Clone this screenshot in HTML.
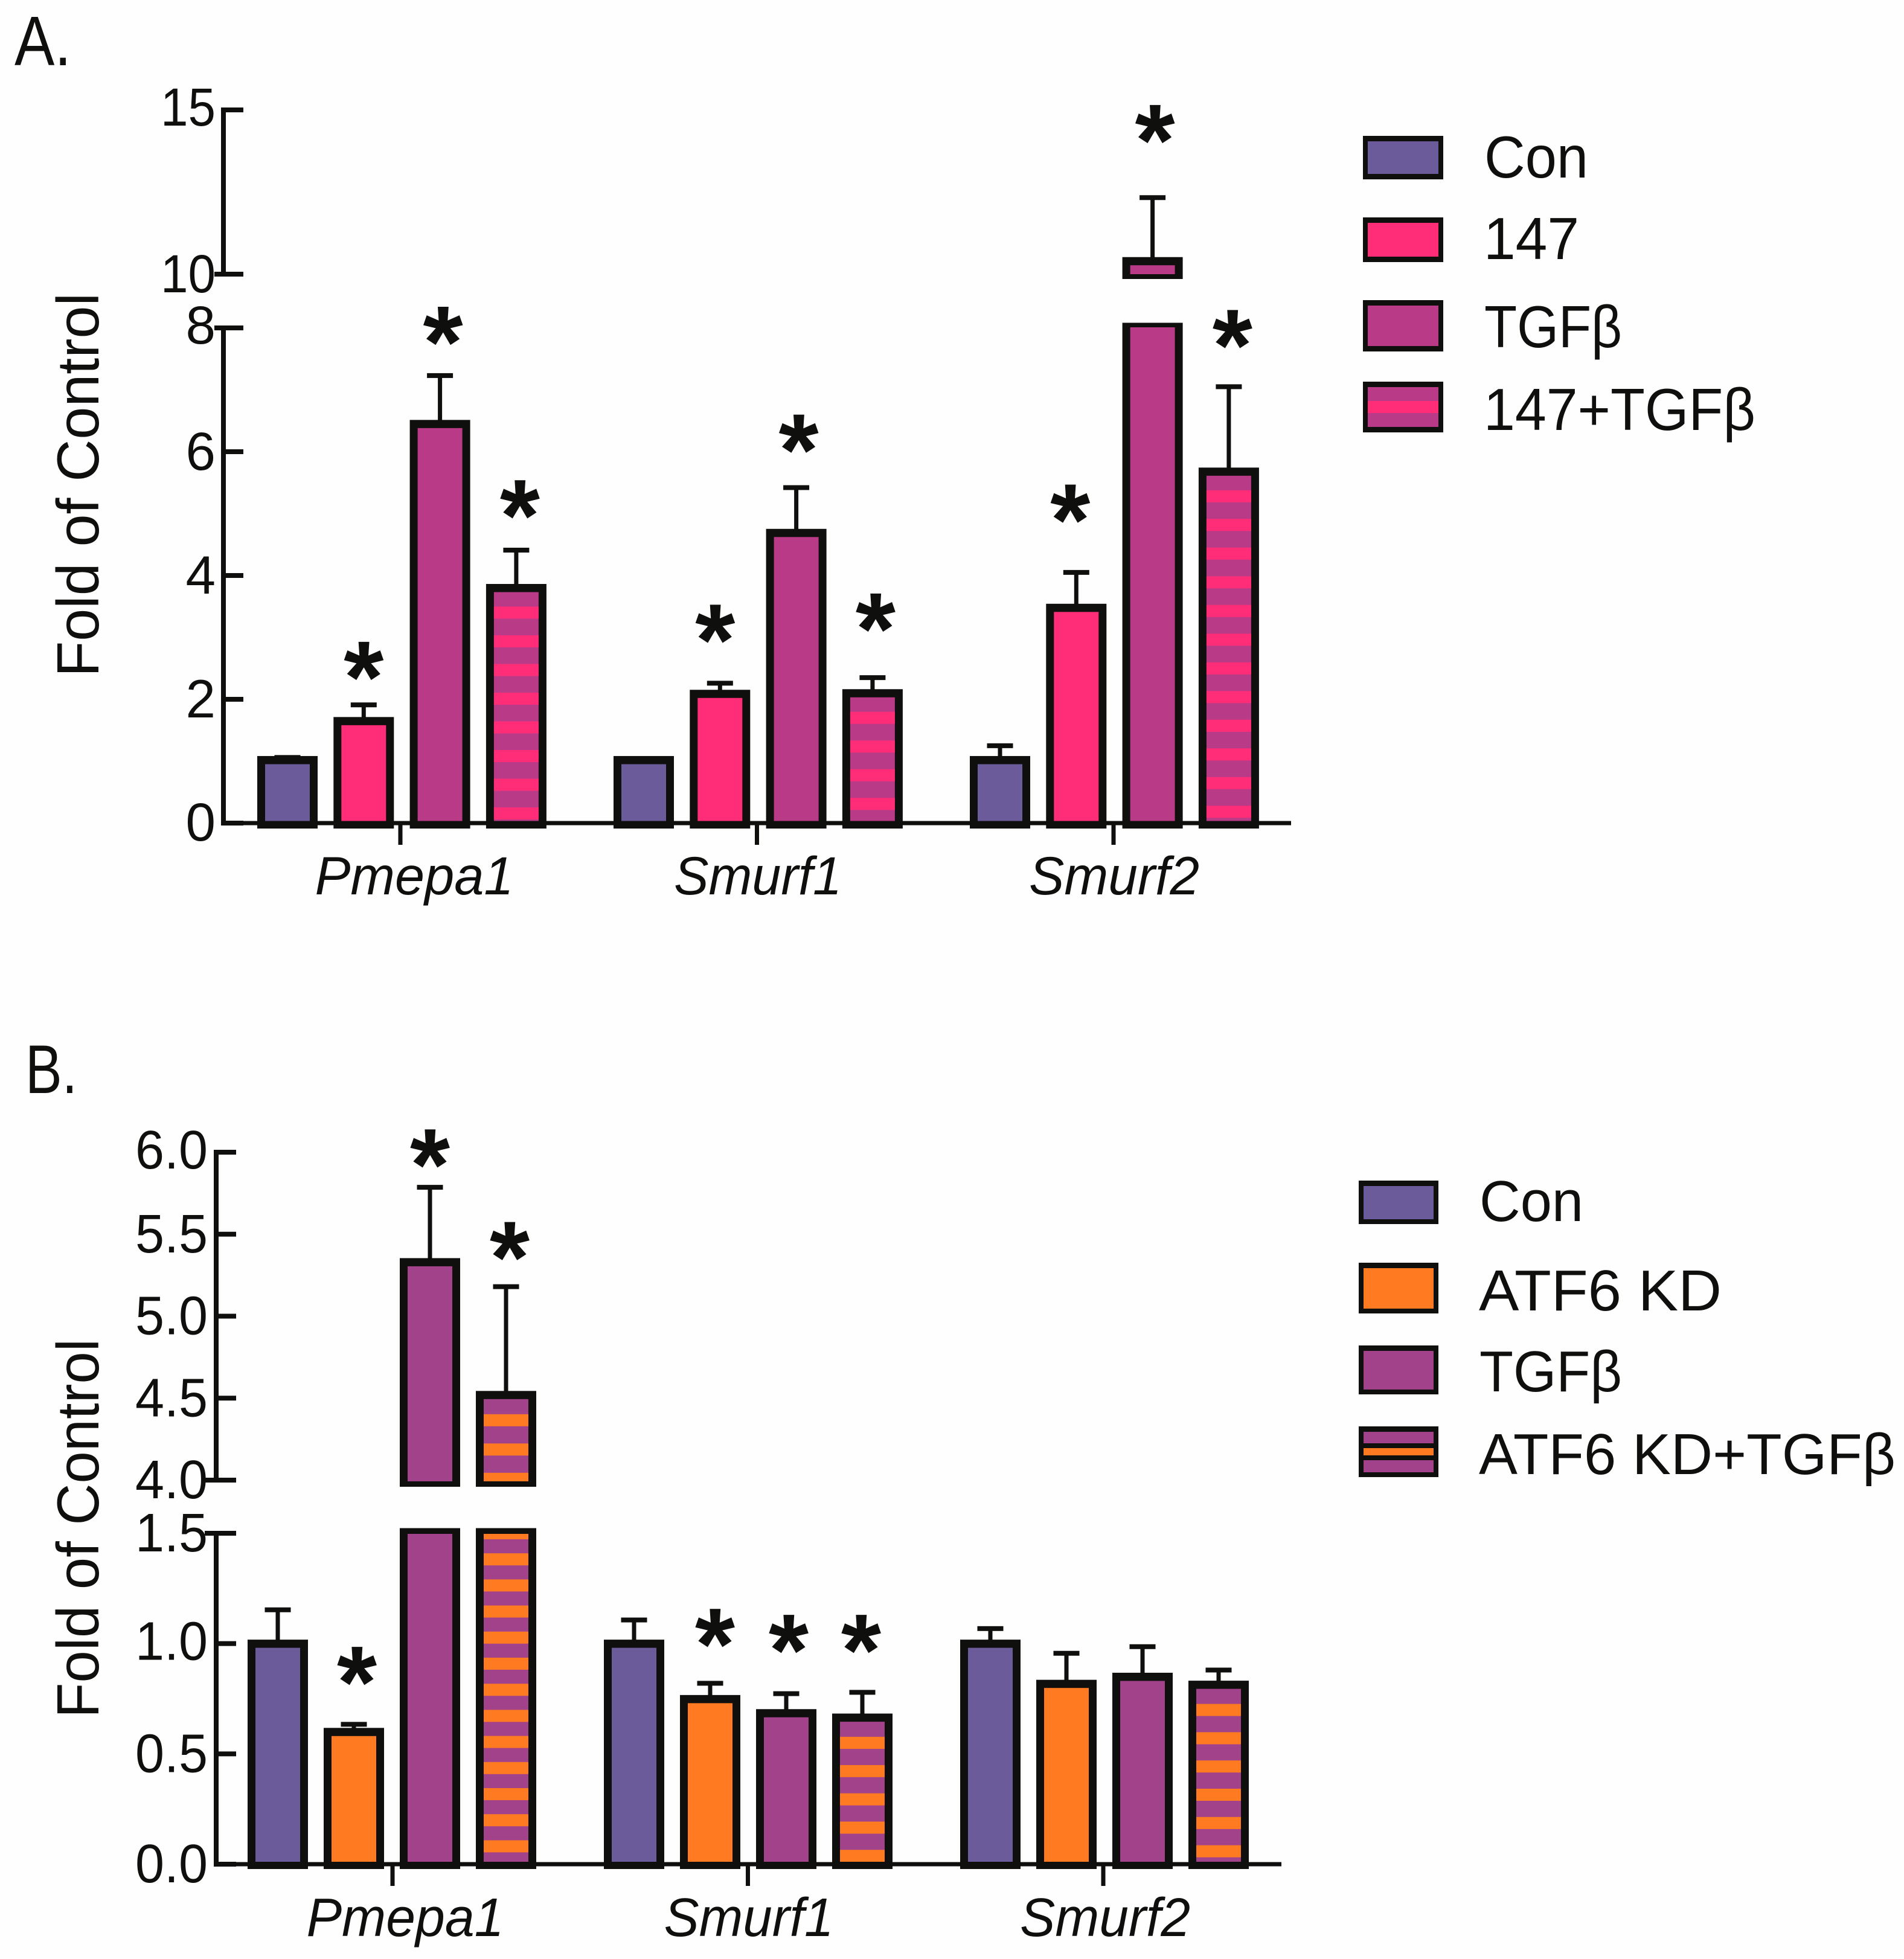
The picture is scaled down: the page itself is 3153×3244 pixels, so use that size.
<!DOCTYPE html>
<html lang="en">
<head>
<meta charset="utf-8">
<title>Fold of Control bar charts</title>
<style>
html,body{margin:0;padding:0;background:#fff;}
svg{display:block;font-family:"Liberation Sans",sans-serif;}
</style>
</head>
<body>
<svg id="figure" xmlns="http://www.w3.org/2000/svg" width="3153" height="3244" viewBox="0 0 3153 3244">
  <rect x="0" y="0" width="3153" height="3244" fill="#fffefe"/>
</svg>
<script>
// ---- shared categories ----
const categories = ['Pmepa1', 'Smurf1', 'Smurf2'];

// ---- panel A data ----
const seriesNamesA = ['Con', '147', 'TGFβ', '147+TGFβ'];
const conValuesA = [1.02, 1.02, 1.02];
const drugValuesA = [1.65, 2.09, 3.48];
const tgfValuesA = [6.45, 4.69, 10.4];
const comboValuesA = [3.8, 2.1, 5.68];
const conErrorsA = [0.04, 0.02, 0.23];
const drugErrorsA = [0.26, 0.17, 0.57];
const tgfErrorsA = [0.78, 0.73, 1.93];
const comboErrorsA = [0.61, 0.25, 1.37];
const conStarsA = [null, null, null];
const drugStarsA = [2.6, 3.2, 5.14];
const tgfStarsA = [8.03, 6.27, 14.53];
const comboStarsA = [5.21, 3.38, 7.96];
const lowerTicksA = [0, 2, 4, 6, 8];
const upperTicksA = [10, 15];

// ---- panel B data ----
const seriesNamesB = ['Con', 'ATF6 KD', 'TGFβ', 'ATF6 KD+TGFβ'];
const conValuesB = [1.0, 1.0, 1.0];
const kdValuesB = [0.6, 0.749, 0.818];
const tgfValuesB = [5.33, 0.685, 0.85];
const comboValuesB = [4.52, 0.665, 0.814];
const conErrorsB = [0.153, 0.107, 0.068];
const kdErrorsB = [0.034, 0.071, 0.138];
const tgfErrorsB = [0.456, 0.088, 0.136];
const comboErrorsB = [0.66, 0.114, 0.066];
const conStarsB = [null, null, null];
const kdStarsB = [0.893, 1.065, null];
const tgfStarsB = [6.015, 1.038, null];
const comboStarsB = [5.45, 1.038, null];
const lowerTicksB = [0, 0.5, 1, 1.5];
const upperTicksB = [4, 4.5, 5, 5.5, 6];

const SVG_NS = 'http://www.w3.org/2000/svg';
const root = document.getElementById('figure');
const INK = '#0f0f0d';

function box(name, x, y, w, h, fill) {
  const el = document.createElementNS(SVG_NS, 'rect');
  
  
  el.setAttribute('x', x);
  el.setAttribute('y', y);
  el.setAttribute('width', w);
  el.setAttribute('height', h);
  el.setAttribute('fill', fill);
  root.appendChild(el);
  return el;
}

function label(name, str, x, y, size, anchor, width, style, weight) {
  const el = document.createElementNS(SVG_NS, 'text');
  
  
  el.setAttribute('x', x);
  el.setAttribute('y', y);
  el.setAttribute('font-size', size);
  el.setAttribute('text-anchor', anchor);
  el.setAttribute('fill', INK);
  if (width) {
    el.setAttribute('textLength', width);
    el.setAttribute('lengthAdjust', 'spacingAndGlyphs');
  }
  if (style) el.setAttribute('font-style', style);
  if (weight) el.setAttribute('font-weight', weight);
  el.textContent = str;
  root.appendChild(el);
  return el;
}

function slug(s) {
  return s.toLowerCase().replace('β', 'b').replace(/[^a-z0-9]+/g, '-');
}

// Piecewise scale through a broken axis
function brokenScale(lowMax, highMin, highMax, y0, yLowTop, yHighBottom, yHighTop) {
  return function (v) {
    if (v <= lowMax) return y0 + (yLowTop - y0) * v / lowMax;
    if (v <= highMin) return yLowTop + (yHighBottom - yLowTop) * (v - lowMax) / (highMin - lowMax);
    return yHighBottom + (yHighTop - yHighBottom) * (v - highMin) / (highMax - highMin);
  };
}

function stripes(name, x, w, top, bottom, color, phase, period, height) {
  for (let s = top + phase; s < bottom; s += period) {
    const a = Math.max(s, top);
    const b = Math.min(s + height, bottom);
    if (b > a) box(name, x, a, w, b - a, color);
  }
}

function drawPanel(p) {
  const y = p.y;
  // bars
  p.series.forEach(function (sr, si) {
    categories.forEach(function (cat, ci) {
      const left = p.barStart + ci * p.groupPitch + si * p.barPitch;
      const cx = left + p.barWidth / 2;
      const base = slug(cat) + '-' + slug(sr.name);
      const v = sr.values[ci];
      const top = v + sr.errors[ci];
      const inX = left + p.side;
      const inW = p.barWidth - 2 * p.side;
      const axisY = y(0);

      // error bar
      box('error-stem-' + base, cx - 3.5, y(top), 7, y(v) - y(top), INK);
      box('error-cap-' + base, cx - 21.5, y(top) - 4, 43, 8, INK);

      if (v > p.lowMax) {
        // upper segment
        const uT = y(v), uB = y(p.highMin);
        box('bar-upper-' + base, left, uT - 6.5, p.barWidth, uB + p.upperOuter - uT + 6.5, INK);
        box('bar-upper-fill-' + base, inX, uT + 7, inW, uB + p.upperInner - uT - 7, sr.color);
        if (sr.stripe) stripes('bar-stripe-' + base, inX, inW, uT + 7, uB + p.upperInner, sr.stripe, p.stripePhase, p.upperPeriod, p.stripeHeight);
        // lower segment
        const lT = y(p.lowMax);
        box('bar-lower-' + base, left, lT - 8.5, p.barWidth, axisY + p.bottomOuter - lT + 8.5, INK);
        box('bar-lower-fill-' + base, inX, lT + p.lowerInner, inW, axisY - p.bottomInner - lT - p.lowerInner, sr.color);
        if (sr.stripe) stripes('bar-stripe-' + base, inX, inW, lT + p.lowerInner, axisY - p.bottomInner, sr.stripe, p.brokenPhase, p.brokenPeriod, p.stripeHeight);
      } else {
        const t = y(v);
        box('bar-' + base, left, t - 6.5, p.barWidth, axisY + p.bottomOuter - t + 6.5, INK);
        box('bar-fill-' + base, inX, t + 7, inW, axisY - p.bottomInner - t - 7, sr.color);
        if (sr.stripe) stripes('bar-stripe-' + base, inX, inW, t + 7, axisY - p.bottomInner, sr.stripe, p.stripePhase, p.stripePeriod, p.stripeHeight);
      }

      // significance star
      if (sr.stars[ci] !== null) {
        const nudge = p.starNudge[Math.min(ci, p.starNudge.length - 1)][si];
        label('significance-star-' + base, '*', cx + nudge, y(sr.stars[ci]) + 0.49 * p.starSize, p.starSize, 'middle', null, null, 'bold');
      }
    });
  });

  // y axis
  const ax = p.axisX;
  box('y-axis-upper-' + p.id, ax - 4, y(p.highMax) - 4, 8, y(p.highMin) - y(p.highMax) + 8, INK);
  box('y-axis-lower-' + p.id, ax - 4, y(p.lowMax) - 4, 8, y(0) - y(p.lowMax) + 8, INK);
  p.upperTicks.concat(p.lowerTicks).forEach(function (t) {
    const ty = y(t);
    const ext = (t === p.highMin || t === p.lowMax) ? p.breakExt : 0;
    const text = t.toFixed(p.decimals);
    const drop = (p.labelDropAt[text] !== undefined) ? p.labelDropAt[text] : p.labelDrop;
    box('y-tick-' + p.id + '-' + String(t).replace('.', '-'), ax - ext, ty - 4, 33 + ext, 8, INK);
    label('y-tick-label-' + p.id + '-' + String(t).replace('.', '-'), text, p.labelRight, ty + drop, p.tickSize, 'end', text.length > 1 ? p.labelWidth : null);
  });

  // x axis
  box('x-axis-' + p.id, ax - 4, y(0) - 3.5, p.axisEnd - ax + 4, 7, INK);
  categories.forEach(function (cat, ci) {
    const tx = p.tickStart + ci * p.tickPitch;
    box('x-tick-' + p.id + '-' + slug(cat), tx - 3.5, y(0), 7, p.xTickLen, INK);
    label('x-label-' + p.id + '-' + slug(cat), cat, p.catX[ci], p.catBaseline, p.tickSize, 'middle', p.catW[ci], 'italic');
  });

  // y title
  const title = label('y-axis-title-' + p.id, 'Fold of Control', p.titleX, p.titleBottom, 98, 'start', p.titleLen);
  title.setAttribute('transform', 'rotate(-90 ' + p.titleX + ' ' + p.titleBottom + ')');

  // panel letter
  label('panel-label-' + p.id, p.letter, p.letterX, p.letterY, p.letterSize, 'start', p.letterW);

  // legend
  p.series.forEach(function (sr, si) {
    const r = p.legend[si];
    const n = 'legend-' + p.id + '-' + slug(sr.name);
    box(n + '-swatch', p.legX, r.t, p.legW, r.b - r.t, INK);
    const fx = p.legX + p.legSide, fw = p.legW - 2 * p.legSide;
    box(n + '-swatch-fill', fx, r.t + p.legTop, fw, r.b - r.t - p.legTop - p.legBot, sr.color);
    if (sr.stripe) {
      const mid = (r.t + r.b) / 2;
      if (p.legLines) box(n + '-swatch-lines', fx, mid - 14, fw, 28, INK);
      box(n + '-swatch-stripe', fx, mid - p.legStripe / 2, fw, p.legStripe, sr.stripe);
    }
    label(n + '-text', sr.name, r.tx, r.base, p.legSize, 'start', r.tw);
  });
}

const PURPLE = '#6c5b9b';
const PINK = '#ff2d78';
const MAG_A = '#b93a86';
const MAG_B = '#a1428a';
const ORANGE = '#ff7a20';

drawPanel({
  id: 'a', letter: 'A.', letterX: 24, letterY: 108, letterSize: 116, letterW: 94,
  y: brokenScale(8, 10, 15, 1363, 543, 454, 182),
  lowMax: 8, highMin: 10, highMax: 15,
  lowerTicks: lowerTicksA, upperTicks: upperTicksA, decimals: 0,
  barStart: 426, barPitch: 126.3, groupPitch: 590, barWidth: 100, side: 13,
  bottomOuter: 9, bottomInner: 3, lowerInner: -1, upperOuter: 8, upperInner: 0,
  stripePhase: 24, stripePeriod: 47.5, upperPeriod: 47.5, stripeHeight: 20, brokenPhase: 24, brokenPeriod: 47.5,
  axisX: 370, axisEnd: 2138, breakExt: 15, labelRight: 357, labelDrop: 30, labelDropAt: { '15': 26, '8': 26, '0': 29 }, labelWidth: 91, tickSize: 89,
  tickStart: 663, tickPitch: 590.5, xTickLen: 36,
  catX: [686, 1255, 1845], catW: [329, 278, 282], catBaseline: 1481,
  titleX: 163, titleBottom: 1121, titleLen: 636,
  starSize: 170, starNudge: [[0, 0, 5, 6], [0, -8, 4, 5], [0, -10, 4, 6]],
  legX: 2257, legW: 133, legSide: 8, legTop: 9, legBot: 9, legStripe: 20, legLines: false, legSize: 98,
  legend: [
    { t: 225, b: 297, tx: 2458, base: 294, tw: 172 },
    { t: 360, b: 434, tx: 2457, base: 429, tw: 158 },
    { t: 497, b: 582, tx: 2458, base: 575, tw: 228 },
    { t: 632, b: 716, tx: 2457, base: 712, tw: 450 }
  ],
  series: [
    { name: seriesNamesA[0], color: PURPLE, values: conValuesA, errors: conErrorsA, stars: conStarsA },
    { name: seriesNamesA[1], color: PINK, values: drugValuesA, errors: drugErrorsA, stars: drugStarsA },
    { name: seriesNamesA[2], color: MAG_A, values: tgfValuesA, errors: tgfErrorsA, stars: tgfStarsA },
    { name: seriesNamesA[3], color: MAG_A, stripe: PINK, values: comboValuesA, errors: comboErrorsA, stars: comboStarsA }
  ]
});

drawPanel({
  id: 'b', letter: 'B.', letterX: 42, letterY: 1810, letterSize: 114, letterW: 86,
  y: brokenScale(1.5, 4, 6, 3087, 2539, 2451, 1908),
  lowMax: 1.5, highMin: 4, highMax: 6,
  lowerTicks: lowerTicksB, upperTicks: upperTicksB, decimals: 1,
  barStart: 410, barPitch: 126, groupPitch: 590, barWidth: 100, side: 13,
  bottomOuter: 8, bottomInner: 4, lowerInner: 1, upperOuter: 11, upperInner: 2,
  stripePhase: 25, stripePeriod: 46.8, upperPeriod: 48.5, stripeHeight: 20, brokenPhase: -11, brokenPeriod: 43.2,
  axisX: 358, axisEnd: 2122, breakExt: 19, labelRight: 344, labelDrop: 30, labelDropAt: { '6.0': 27, '1.0': 27 }, labelWidth: 120, tickSize: 90,
  tickStart: 650, tickPitch: 588.5, xTickLen: 36,
  catX: [671, 1240, 1830], catW: [327, 281, 282], catBaseline: 3206,
  titleX: 163, titleBottom: 2845, titleLen: 628,
  starSize: 170, starNudge: [[0, 5, 0, 6], [0, 8, 4, -2]],
  legX: 2250, legW: 132, legSide: 8, legTop: 9, legBot: 8, legStripe: 12, legLines: true, legSize: 96,
  legend: [
    { t: 1955, b: 2027, tx: 2450, base: 2022, tw: 172 },
    { t: 2091, b: 2175, tx: 2449, base: 2170, tw: 402 },
    { t: 2228, b: 2309, tx: 2450, base: 2304, tw: 236 },
    { t: 2362, b: 2446, tx: 2449, base: 2441, tw: 690 }
  ],
  series: [
    { name: seriesNamesB[0], color: PURPLE, values: conValuesB, errors: conErrorsB, stars: conStarsB },
    { name: seriesNamesB[1], color: ORANGE, values: kdValuesB, errors: kdErrorsB, stars: kdStarsB },
    { name: seriesNamesB[2], color: MAG_B, values: tgfValuesB, errors: tgfErrorsB, stars: tgfStarsB },
    { name: seriesNamesB[3], color: MAG_B, stripe: ORANGE, values: comboValuesB, errors: comboErrorsB, stars: comboStarsB }
  ]
});
</script>
</body>
</html>
